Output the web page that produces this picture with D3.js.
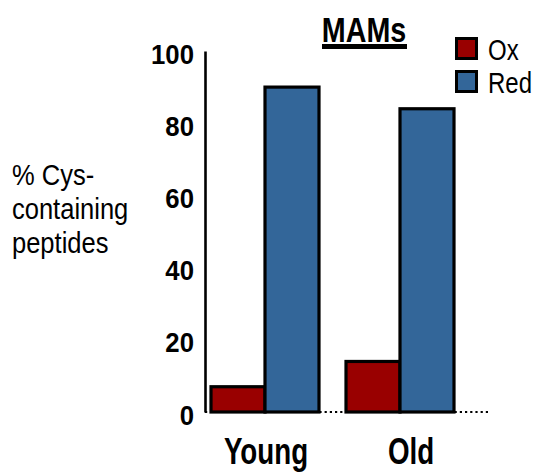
<!DOCTYPE html>
<html>
<head>
<meta charset="utf-8">
<script src="https://cdn.jsdelivr.net/npm/d3@7"></script>
<style>
  html, body { margin: 0; padding: 0; background: #fff; }
  svg { display: block; font-family: "Liberation Sans", Arial, sans-serif; }
</style>
</head>
<body>
<svg id="chart" width="538" height="472"></svg>
<script>
// Share of Cys-containing peptides, oxidized vs reduced, in MAMs
const categories = ["Young", "Old"];
const seriesNames = ["Ox", "Red"];
const oxValues = [7, 14];
const redValues = [90, 84];
const yTicks = [0, 20, 40, 60, 80, 100];
const seriesColors = ["#990000", "#336699"];
const titleText = "MAMs";
const yTitleLines = ["% Cys-", "containing", "peptides"];

const svg = d3.select("#chart");

const y = d3.scaleLinear().domain([0, 100]).range([412, 51]);
const x0 = d3.scaleBand().domain(categories).range([211, 454])
  .paddingInner(0.2).paddingOuter(0);
const x1 = d3.scaleBand().domain(seriesNames).range([0, x0.bandwidth()]).padding(0);
const color = d3.scaleOrdinal().domain(seriesNames).range(seriesColors);

const rows = categories.map((c, i) => ({
  category: c,
  values: [{ key: "Ox", value: oxValues[i] }, { key: "Red", value: redValues[i] }]
}));

// bars
const groups = svg.append("g").selectAll("g").data(rows).join("g")
  .attr("transform", d => `translate(${x0(d.category)},0)`);
groups.selectAll("rect").data(d => d.values).join("rect")
  .attr("x", d => x1(d.key))
  .attr("y", d => y(d.value))
  .attr("width", x1.bandwidth())
  .attr("height", d => y(0) - y(d.value))
  .attr("fill", d => color(d.key))
  .attr("stroke", "#000")
  .attr("stroke-width", 3.2);

// dotted zero line
svg.append("line")
  .attr("x1", 205).attr("x2", 490)
  .attr("y1", y(0)).attr("y2", y(0))
  .attr("stroke", "#000").attr("stroke-width", 2.2)
  .attr("stroke-dasharray", "2.2,3");

// y axis
const yAxis = svg.append("g")
  .attr("transform", "translate(205,0)")
  .call(d3.axisLeft(y).tickValues(yTicks).tickSize(0).tickSizeOuter(0).tickPadding(12));
yAxis.select(".domain").attr("stroke", "#000").attr("stroke-width", 2.6);
yAxis.selectAll("text")
  .attr("font-family", "Liberation Sans, Arial, sans-serif")
  .attr("font-size", 28).attr("font-weight", "bold").attr("fill", "#000")
  .attr("dy", null).attr("y", 12)
  .attr("transform", "scale(0.92,1)");

// category axis
const xAxis = svg.append("g")
  .attr("transform", `translate(0,${y(0)})`)
  .call(d3.axisBottom(x0).tickSize(0).tickPadding(0));
xAxis.select(".domain").remove();
xAxis.selectAll(".tick text")
  .attr("font-family", "Liberation Sans, Arial, sans-serif")
  .attr("font-size", 37).attr("font-weight", "bold").attr("fill", "#000")
  .attr("dy", null).attr("y", 0)
  .attr("transform", (d, i) => `translate(${i === 1 ? 11 : 1},52) scale(0.75,1)`);

// title with underline
const title = svg.append("g").attr("transform", "translate(364,42) scale(0.82,1)");
title.append("text").attr("text-anchor", "middle")
  .attr("font-size", 35).attr("font-weight", "bold").text(titleText);
svg.append("rect").attr("x", 322).attr("y", 44).attr("width", 85).attr("height", 5).attr("fill", "#000");

// legend
const legend = svg.append("g").attr("transform", "translate(455,37)");
const item = legend.selectAll("g").data(seriesNames).join("g")
  .attr("transform", (d, i) => `translate(0,${i * 33})`);
item.append("rect").attr("x", 1.5).attr("y", 1.5).attr("width", 20).attr("height", 20)
  .attr("fill", d => color(d)).attr("stroke", "#000").attr("stroke-width", 3);
item.append("text")
  .attr("transform", "translate(33,23) scale(0.8,1)")
  .attr("font-size", 30).text(d => d);

// y axis title
const yt = svg.append("g");
yt.selectAll("text").data(yTitleLines).join("text")
  .attr("transform", (d, i) => `translate(12,${185 + i * 34}) scale(0.88,1)`)
  .attr("font-size", 29).text(d => d);
</script>
</body>
</html>
